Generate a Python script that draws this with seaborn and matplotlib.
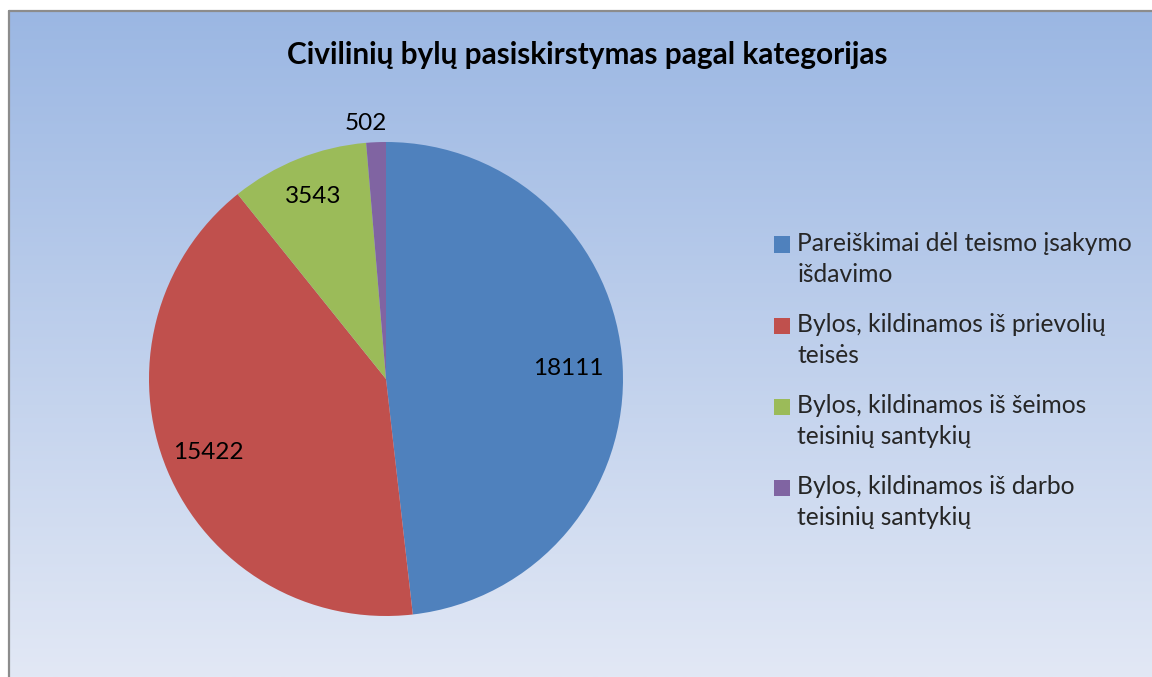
import seaborn as sns
import matplotlib.pyplot as plt
import numpy as np
from matplotlib.patches import Patch, Rectangle
from matplotlib.lines import Line2D
from matplotlib.legend_handler import HandlerPatch

# data
categories = [
    "Pareiškimai dėl teismo įsakymo\nišdavimo",
    "Bylos, kildinamos iš prievolių\nteisės",
    "Bylos, kildinamos iš šeimos\nteisinių santykių",
    "Bylos, kildinamos iš darbo\nteisinių santykių",
]
values = [18111, 15422, 3543, 502]
title = "Civilinių bylų pasiskirstymas pagal kategorijas"

sns.set_theme(style="white")
plt.rcParams["font.family"] = ["Lato", "DejaVu Sans"]

colors = sns.color_palette(["#4f81bd", "#c0504d", "#9bbb59", "#8064a2"])

W, H = 1152, 677
fig = plt.figure(figsize=(W / 100, H / 100), dpi=100)
fig.patch.set_facecolor("white")

# gradient background of the chart area
x0, y0 = 9 / W, 1 - 11 / H
bg = fig.add_axes([x0, 0, 1 - x0, y0])
grad = np.linspace(0, 1, 256).reshape(-1, 1)
top = np.array([155, 183, 227]) / 255
bot = np.array([226, 232, 245]) / 255
img = top[None, None, :] * (1 - grad[:, :, None]) + bot[None, None, :] * grad[:, :, None]
bg.imshow(img, aspect="auto", extent=[0, 1, 0, 1], origin="upper",
          interpolation="bilinear")
bg.set_xlim(0, 1)
bg.set_ylim(0, 1)
bg.axis("off")
bg.set_zorder(0)

# grey frame on left/top only (rest runs off the picture)
fig.add_artist(Line2D([x0, x0], [0, y0], color="#8c8c8c", lw=1.6))
fig.add_artist(Line2D([x0, 1], [y0, y0], color="#8c8c8c", lw=1.6))

# pie
cx, cy, r = 386, 379, 237
ax = fig.add_axes([(cx - r) / W, (H - cy - r) / H, 2 * r / W, 2 * r / H])
ax.set_zorder(1)
ax.patch.set_alpha(0)
wedges, _ = ax.pie(values, colors=colors, startangle=90, counterclock=False,
                   radius=1, wedgeprops=dict(linewidth=0))
ax.set_xlim(-1, 1)
ax.set_ylim(-1, 1)
ax.set_aspect("equal")
ax.axis("off")

dists = [0.77, 0.81, 0.83, 1.08]
for w, v, d in zip(wedges, values, dists):
    ang = np.deg2rad((w.theta1 + w.theta2) / 2)
    ax.text(d * np.cos(ang) - (0.04 if d > 1 else 0), d * np.sin(ang), str(v),
            ha="center", va="center", fontsize=17.5, color="black")

fig.text(587 / W, 1 - 55 / H, title, ha="center", va="center",
         fontsize=21.4, fontweight="bold", color="black")


# legend square sits next to the first line of the label, like Excel
def top_square(legend, orig_handle, xdescent, ydescent, width, height, fontsize):
    return Rectangle((-xdescent, -ydescent + 0.61 * fontsize), width, height)


handles = [Patch(facecolor=c, edgecolor="none") for c in colors]
leg = fig.legend(handles, categories, loc="upper left",
                 bbox_to_anchor=(774 / W, 1 - 232 / H), frameon=False,
                 fontsize=17.7, handlelength=0.65, handleheight=0.65,
                 handletextpad=0.3, labelspacing=1.12, borderpad=0,
                 borderaxespad=0, alignment="left",
                 handler_map={Patch: HandlerPatch(patch_func=top_square)})
for t in leg.get_texts():
    t.set_linespacing(1.4)

fig.savefig("out.png", dpi=100)
